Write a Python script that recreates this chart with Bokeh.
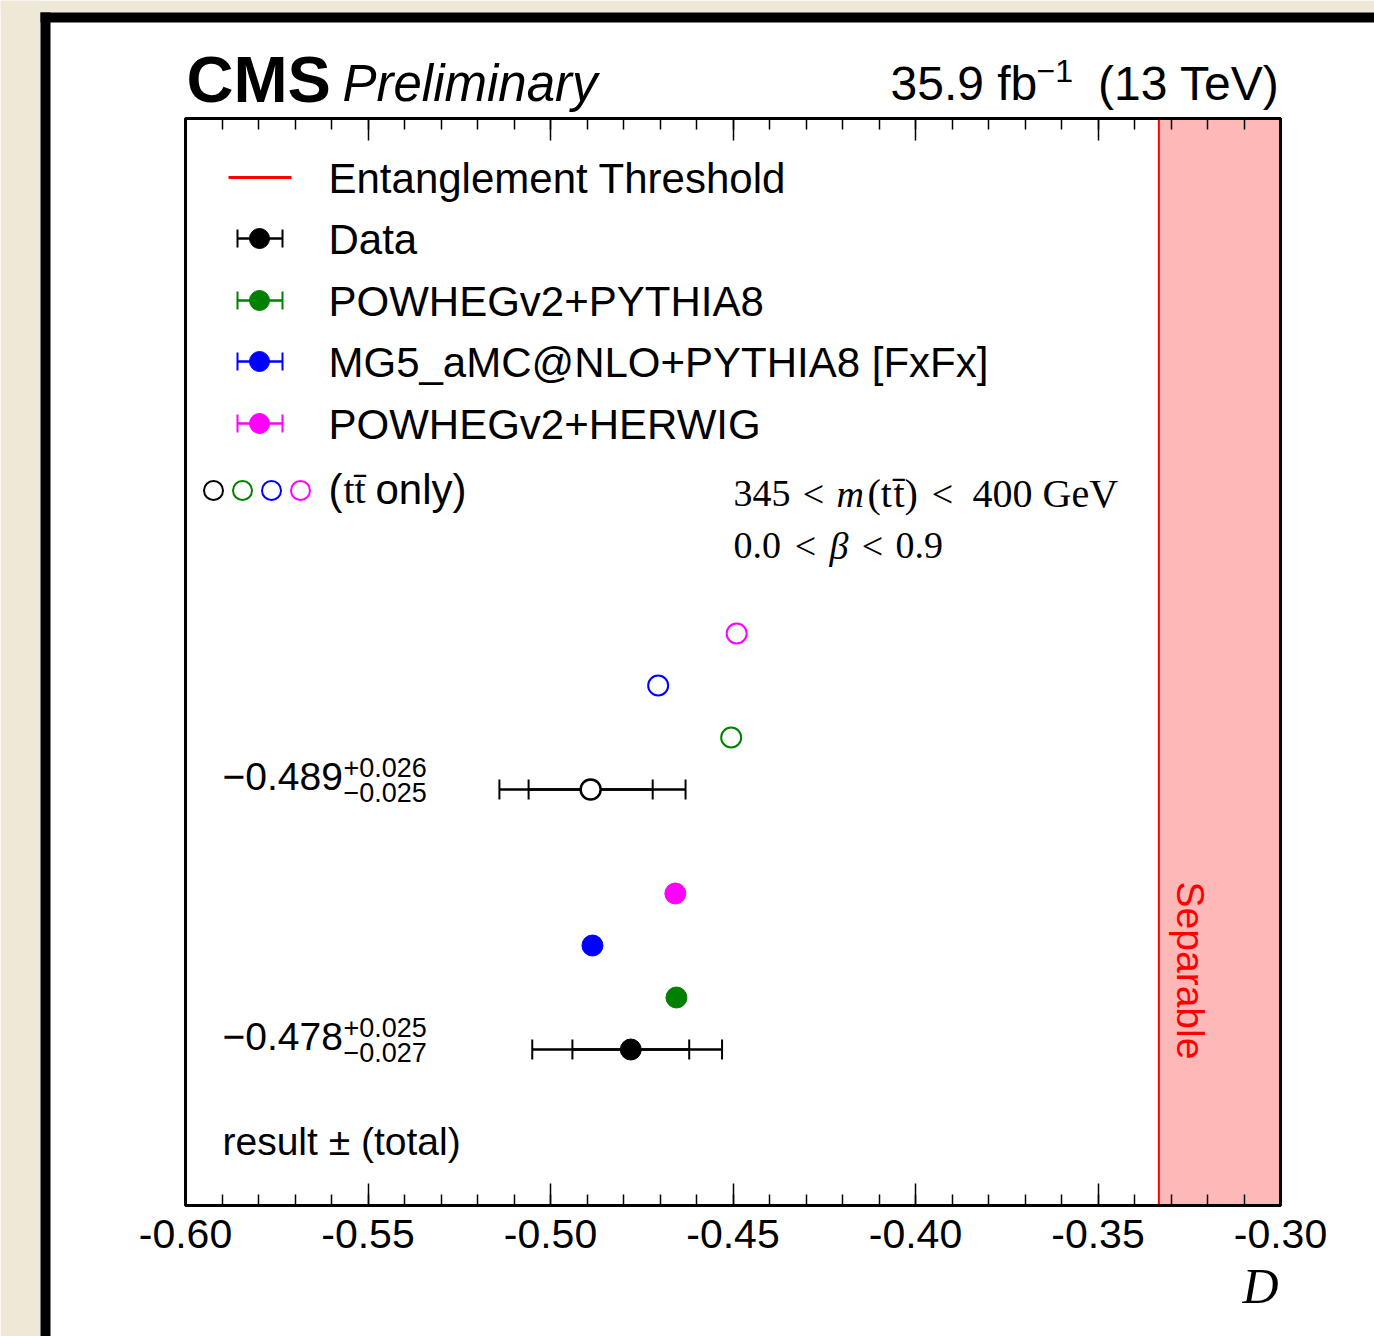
import math
from bokeh.plotting import figure
from bokeh.models import (Range1d, LinearAxis, FixedTicker, CustomJSTickFormatter,
                          Whisker, TeeHead, ColumnDataSource, BoxAnnotation, Label)
from bokeh.embed import file_html
from bokeh.resources import INLINE

# ---- values -------------------------------------------------------------
samples = ["Data", "POWHEGv2+PYTHIA8", "MG5_aMC@NLO+PYTHIA8 [FxFx]", "POWHEGv2+HERWIG"]
colors = ["black", "#008000", "#0000ff", "#ff00ff"]

# D for the full result (filled markers) and for tt-bar only (open markers)
d_full = [-0.478, -0.4655, -0.4885, -0.4658]
d_ttonly = [-0.489, -0.4505, -0.4705, -0.449]

# row positions of the markers
rows_full = [3, 4, 5, 6]
rows_ttonly = [8, 9, 10, 11]

# uncertainties on data: (up, down) total and statistical
err_full_total = (0.025, 0.027)
err_full_stat = (0.016, 0.016)
err_tt_total = (0.026, 0.025)
err_tt_stat = (0.017, 0.017)

threshold = -1.0 / 3.0
x_ticks = [-0.60, -0.55, -0.50, -0.45, -0.40, -0.35, -0.30]
x_minor = [round(-0.60 + 0.01 * i, 2) for i in range(31)]

# ---- geometry: the canvas is one frame, the plotting box sits inside ------
W, H = 1374, 1336
FL, FR, FT, FB = 185, 1280, 118, 1205     # plotting box in canvas pixels
X0, X1 = -0.60, -0.30
ROW_PX = 52.0
Y1 = (FB - FT) / ROW_PX
XPP = (X1 - X0) / (FR - FL)


def fx(px):
    return X0 + (px - FL) * XPP


def fy(py):
    return (FB - py) / ROW_PX


SANS = "Liberation Sans"
SERIF = "Liberation Serif"

p = figure(width=W, height=H, output_backend="svg", toolbar_location=None,
           x_range=Range1d(fx(0), fx(W)), y_range=Range1d(fy(H), fy(0)),
           min_border=0, x_axis_location=None, y_axis_location=None)
p.grid.visible = False
p.background_fill_color = "white"
p.border_fill_color = "white"
p.outline_line_color = None

# page surround: beige paper and the black frame corner
BEIGE = "#eee8d6"
for (l, r, t, b, c) in [(0, 40, 0, H, BEIGE), (0, W, 0, 12, BEIGE),
                        (40, 50, 12, H, "black"), (40, W, 12, 22, "black")]:
    p.add_layout(BoxAnnotation(left=fx(l), right=fx(r), top=fy(t), bottom=fy(b),
                               fill_color=c, fill_alpha=1, line_color=None,
                               level="underlay"))

# ---- separable region ---------------------------------------------------
p.add_layout(BoxAnnotation(left=threshold, right=X1, bottom=0, top=Y1,
                           fill_color="#ffb8b8", fill_alpha=1,
                           line_color=None, level="underlay"))
p.segment(x0=[threshold], y0=[0], x1=[threshold], y1=[Y1],
          line_color="#ff0000", line_width=2)

# box around the plotting area
p.add_layout(BoxAnnotation(left=X0, right=X1, bottom=0, top=Y1,
                           fill_color=None, line_color="black", line_width=3,
                           line_alpha=1, line_dash="solid", level="overlay"))

# ---- axes ---------------------------------------------------------------
fmt = CustomJSTickFormatter(code="return tick.toFixed(2);")


def make_axis(loc, labels=True):
    ax = LinearAxis(fixed_location=loc, bounds=(X0, X1))
    ax.ticker = FixedTicker(ticks=x_ticks, minor_ticks=x_minor)
    ax.formatter = fmt
    ax.axis_line_width = 3
    ax.axis_line_color = "black"
    ax.major_tick_in = 22
    ax.major_tick_out = 0
    ax.minor_tick_in = 11
    ax.minor_tick_out = 0
    ax.major_tick_line_width = 1.5
    ax.minor_tick_line_width = 1.5
    ax.major_tick_line_color = "black"
    ax.minor_tick_line_color = "black"
    ax.major_label_text_font = SANS
    ax.major_label_text_font_size = "41px"
    ax.major_label_text_color = "black" if labels else None
    ax.major_label_standoff = 14
    return ax


p.add_layout(make_axis(0), "below")
p.add_layout(make_axis(Y1, labels=False), "above")


def label(px, py, text, size, font=SANS, style="normal", color="black",
          align="left", baseline="middle", angle=0.0):
    p.add_layout(Label(x=fx(px), y=fy(py), text=text, text_font=font,
                       text_font_size=f"{size}px", text_font_style=style,
                       text_color=color, text_align=align,
                       text_baseline=baseline, angle=angle))


label(1190, 970, "Separable", 39, color="#ff0000", align="center",
      angle=-math.pi / 2)


# ---- data error bars ----------------------------------------------------
def err_bar(xc, yc, total, stat):
    src_t = ColumnDataSource(dict(base=[yc], lower=[xc - total[1]], upper=[xc + total[0]]))
    src_s = ColumnDataSource(dict(base=[yc], lower=[xc - stat[1]], upper=[xc + stat[0]]))
    for src in (src_t, src_s):
        p.add_layout(Whisker(source=src, base="base", lower="lower", upper="upper",
                             dimension="width", line_color="black", line_width=2.5,
                             lower_head=TeeHead(size=20, line_width=2, line_color="black"),
                             upper_head=TeeHead(size=20, line_width=2, line_color="black")))


err_bar(d_full[0], rows_full[0], err_full_total, err_full_stat)
err_bar(d_ttonly[0], rows_ttonly[0], err_tt_total, err_tt_stat)

# full result markers (filled)
p.scatter(d_full, rows_full, size=21, fill_color=colors, line_color=colors, line_width=1)
# tt-bar only markers (open)
p.scatter(d_ttonly[:1], rows_ttonly[:1], size=20, fill_color="white",
          line_color=colors[:1], line_width=2.5)
p.scatter(d_ttonly[1:], rows_ttonly[1:], size=20, fill_color=None,
          line_color=colors[1:], line_width=2)


# ---- value annotations ---------------------------------------------------
def value_text(py, v, up, dn):
    label(222, py, f"\u2212{abs(v):.3f}", 39)
    label(343, py - 9, f"+{up:.3f}", 27)
    label(343, py + 16, f"\u2212{dn:.3f}", 27)


value_text(776, d_ttonly[0], *err_tt_total)
value_text(1036, d_full[0], *err_full_total)
label(222, 1141, "result \u00b1 (total)", 39)

# ---- legend ---------------------------------------------------------------
leg_x_text = 328
p.segment(x0=[fx(228)], y0=[fy(177)], x1=[fx(291)], y1=[fy(177)],
          line_color="#ff0000", line_width=3)
label(leg_x_text, 178, "Entanglement Threshold", 42)

leg_rows = [238, 300, 361, 423]
for name, col, ry in zip(samples, colors, leg_rows):
    src = ColumnDataSource(dict(base=[fy(ry)], lower=[fx(237)], upper=[fx(282)]))
    p.add_layout(Whisker(source=src, base="base", lower="lower", upper="upper",
                         dimension="width", line_color=col, line_width=2.5,
                         lower_head=TeeHead(size=18, line_width=2, line_color=col),
                         upper_head=TeeHead(size=18, line_width=2, line_color=col)))
    p.scatter([fx(259)], [fy(ry)], size=20, fill_color=col, line_color=col)
    label(leg_x_text, ry + 1, name, 42)

p.scatter([fx(213), fx(242), fx(271), fx(300)], [fy(490)] * 4, size=19,
          fill_color=None, line_color=colors, line_width=2)
label(leg_x_text, 489, "(", 42)
label(leg_x_text + 15, 489, "tt\u0304", 40, font=SERIF)
label(leg_x_text + 47, 489, " only)", 42)

# ---- phase-space text ----------------------------------------------------
label(733, 493, "345", 38, font=SERIF)
label(813, 493, "<", 38, font=SERIF, align="center")
label(836, 493, "m", 38, font=SERIF, style="italic")
label(867, 493, "(t", 40, font=SERIF)
label(893, 493, "t\u0304)", 40, font=SERIF)
label(942, 493, "<", 38, font=SERIF, align="center")
label(972, 493, "400 GeV", 40, font=SERIF)
label(733, 545, "0.0", 38, font=SERIF)
label(805, 545, "<", 38, font=SERIF, align="center")
label(829, 545, "\u03b2", 38, font=SERIF, style="italic")
label(872, 545, "<", 38, font=SERIF, align="center")
label(895, 545, "0.9", 38, font=SERIF)

# ---- header and axis title -----------------------------------------------
label(186, 79, "CMS", 65, style="bold")
label(342, 83, "Preliminary", 51, style="italic")
label(890, 83, "35.9 fb", 48)
label(1036, 70, "\u22121", 32)
label(1279, 83, "(13 TeV)", 48, align="right")
label(1278, 1285, "D", 50, font=SERIF, style="italic", align="right")

open("out.html", "w").write(file_html(p, INLINE))
